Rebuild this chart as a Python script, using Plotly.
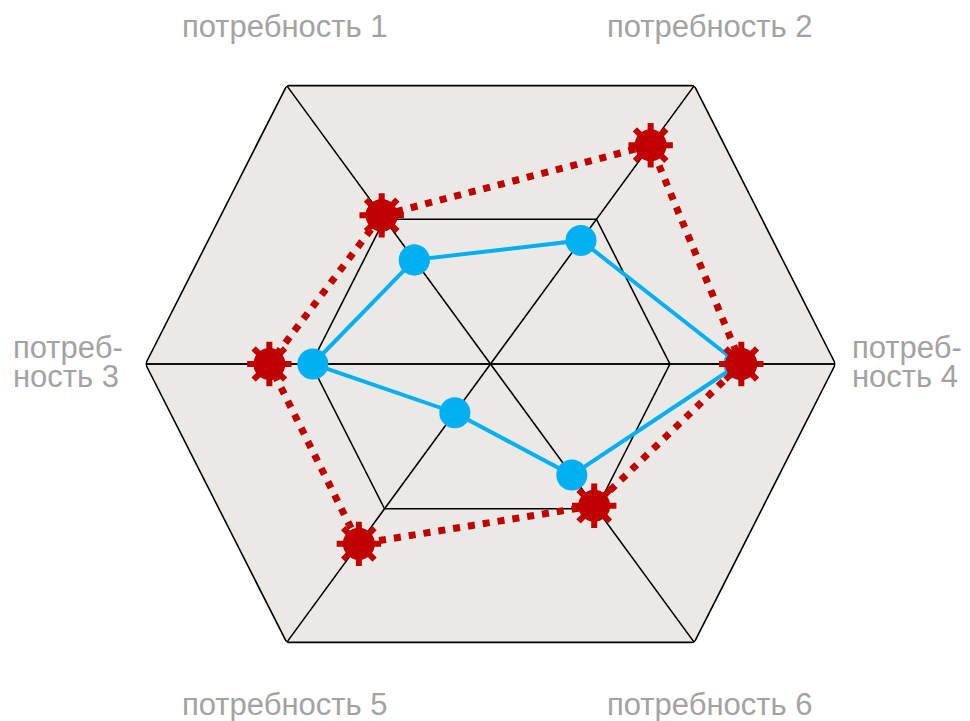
import plotly.graph_objects as go

# ---- data ----
categories = ["потребность 1", "потребность 2", "потреб-<br>ность 3",
              "потреб-<br>ность 4", "потребность 5", "потребность 6"]
category_angles = [126.2, 53.8, 180.0, 0.0, 233.8, 306.2]   # degrees, counterclockwise from east
blue_values = [3.74, 4.44, 5.15, 7.20, 1.75, 3.99]
red_values = [5.34, 7.86, 6.41, 7.27, 6.46, 5.09]
grid_levels = [5.2, 10.0]
r_max = 10.0

# order categories clockwise around the hexagon (starting at category 1)
order = sorted(range(len(categories)), key=lambda i: (category_angles[0] - category_angles[i]) % 360)
ring_theta = [category_angles[i] for i in order] + [category_angles[order[0]]]

def ring(values):
    return [values[i] for i in order] + [values[order[0]]]

fig = go.Figure()

# outer filled hexagon
fig.add_trace(go.Scatterpolar(
    r=[grid_levels[-1]] * len(ring_theta), theta=ring_theta, mode="lines",
    fill="toself", fillcolor="#EBE9E5", line=dict(color="black", width=1.6),
    hoverinfo="skip", showlegend=False))

# inner hexagon(s)
for lvl in grid_levels[:-1]:
    fig.add_trace(go.Scatterpolar(
        r=[lvl] * len(ring_theta), theta=ring_theta, mode="lines",
        line=dict(color="black", width=1.6), hoverinfo="skip", showlegend=False))

# spokes through the centre
spoke_r, spoke_t = [], []
for a in category_angles:
    if a <= 180:
        spoke_r += [r_max, 0, r_max, None]
        spoke_t += [a, a, (a + 180) % 360, None]
fig.add_trace(go.Scatterpolar(
    r=spoke_r, theta=spoke_t, mode="lines", connectgaps=False,
    line=dict(color="black", width=1.6), hoverinfo="skip", showlegend=False))

# blue series
fig.add_trace(go.Scatterpolar(
    r=ring(blue_values), theta=ring_theta, mode="lines+markers",
    line=dict(color="#00B0F0", width=4),
    marker=dict(color="#00B0F0", size=31, symbol="circle"),
    showlegend=False))

# red series
fig.add_trace(go.Scatterpolar(
    r=ring(red_values), theta=ring_theta, mode="lines+markers",
    line=dict(color="#C00000", width=7, dash="7px,8px"),
    marker=dict(color="#C00000", size=32, symbol="circle"),
    showlegend=False))
fig.add_trace(go.Scatterpolar(
    r=red_values, theta=category_angles, mode="markers",
    marker=dict(color="#C00000", size=37, symbol="asterisk",
                line=dict(color="#C00000", width=6)),
    hoverinfo="skip", showlegend=False))

# category labels
W, H = 970, 721
L, R, T, B = 145, 134, 19, 12
pw, ph = W - L - R, H - T - B

def px(x):
    return (x - L) / pw

def py(y):
    return (H - B - y) / ph

label_font = dict(family="Liberation Sans, Arial, sans-serif", size=31, color="#A3A3A3")
label_pos = [(284.5, 26.5, "center"), (710, 26.5, "center"),
             (12, 347.5, "left"), (851, 347.5, "left"),
             (285, 704.5, "center"), (710, 704.5, "center")]
annotations = []
for text, (x, y, anc) in zip(categories, label_pos):
    for k, line in enumerate(text.split("<br>")):
        annotations.append(dict(
            x=px(x), y=py(y + 29 * k), xref="paper", yref="paper",
            text=line, showarrow=False, xanchor=anc, borderpad=0,
            yanchor="middle", font=label_font))

fig.update_layout(
    width=W, height=H,
    margin=dict(l=L, r=R, t=T, b=B, pad=0),
    paper_bgcolor="white", plot_bgcolor="white",
    polar=dict(
        domain=dict(x=[0, 1], y=[0, 1]),
        bgcolor="rgba(0,0,0,0)",
        radialaxis=dict(range=[0, r_max], visible=False),
        angularaxis=dict(type="linear", visible=False, rotation=0,
                         direction="counterclockwise", thetaunit="degrees"),
    ),
    annotations=annotations,
    showlegend=False,
)

fig.write_html("out.html", config={"displayModeBar": False},
               post_script="document.body.style.margin='0';document.body.style.overflow='hidden';")
